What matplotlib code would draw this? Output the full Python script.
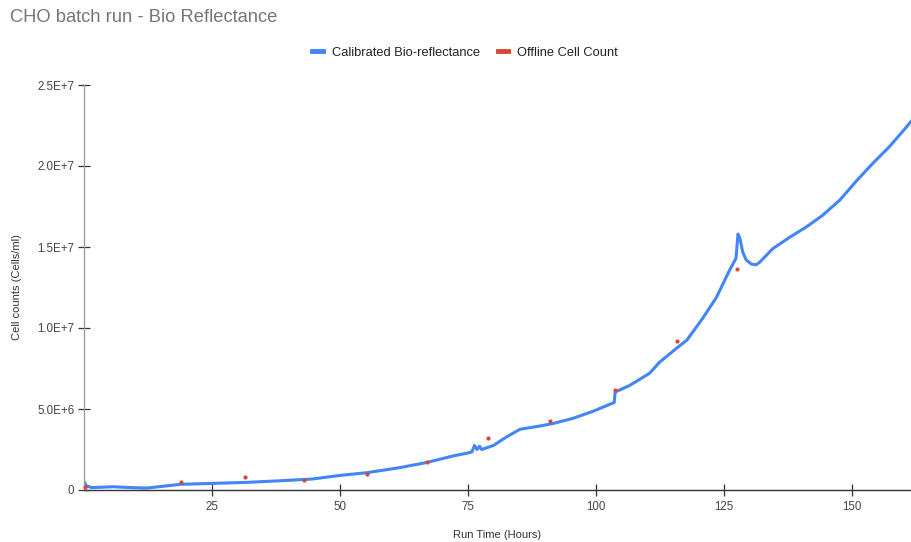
import matplotlib
matplotlib.use('Agg')
import matplotlib.pyplot as plt
from matplotlib.lines import Line2D
from matplotlib.ticker import FixedLocator, FixedFormatter

plt.rcParams['font.family'] = ['Liberation Sans', 'DejaVu Sans']

# calibrated bio-reflectance trace (hours, cells/ml)
run_hours = [0.1, 0.5, 1.5, 5.7, 9.0, 12.3, 18.8, 25.2, 31.8, 38.3, 44.7, 50, 55.3,
             61.7, 67, 72.1, 74.8, 75.8, 76.3, 76.8, 77.3, 77.7, 80, 82.6, 85.2,
             89.1, 91.6, 95.5, 99.4, 103.6, 103.8, 106.6, 110.5, 112.5, 115.8,
             117.8, 120.9, 123.6, 126.2, 127.4, 127.8, 128.2, 128.7, 129.4,
             130.4, 131.3, 132.0, 134.6, 137.9, 141.2, 144.3, 147.7, 151, 154.1,
             157.4, 160.7, 161.6]
bio_reflectance = [0.45e6, 0.25e6, 0.15e6, 0.2e6, 0.15e6, 0.12e6, 0.35e6, 0.41e6,
                   0.47e6, 0.57e6, 0.68e6, 0.9e6, 1.07e6, 1.38e6, 1.7e6, 2.1e6,
                   2.27e6, 2.35e6, 2.75e6, 2.5e6, 2.7e6, 2.5e6, 2.75e6, 3.28e6,
                   3.75e6, 3.95e6, 4.1e6, 4.42e6, 4.85e6, 5.4e6, 6.05e6, 6.45e6,
                   7.2e6, 7.9e6, 8.75e6, 9.25e6, 10.6e6, 11.9e6, 13.6e6, 14.3e6,
                   15.8e6, 15.5e6, 14.7e6, 14.2e6, 13.95e6, 13.9e6, 14.05e6,
                   14.9e6, 15.6e6, 16.25e6, 16.95e6, 17.9e6, 19.1e6, 20.15e6,
                   21.2e6, 22.4e6, 22.75e6]

# offline cell counts
count_hours = [0.2, 18.9, 31.4, 43.0, 55.3, 67.1, 79.0, 91.1, 103.7, 115.8, 127.6]
cell_counts = [0.2e6, 0.5e6, 0.78e6, 0.62e6, 1.0e6, 1.71e6, 3.19e6, 4.24e6,
               6.17e6, 9.2e6, 13.64e6]

x_ticks = [25, 50, 75, 100, 125, 150]
y_ticks = [0, 5e6, 1e7, 1.5e7, 2e7, 2.5e7]
y_labels = ['0', '5.0E+6', '1.0E+7', '1.5E+7', '2.0E+7', '2.5E+7']

blue = '#4285F4'
red = '#DB4437'

fig = plt.figure(figsize=(9.11, 5.42), dpi=100)
ax = fig.add_axes([84 / 911, 52 / 542, 827 / 911, 405 / 542])

ax.plot(run_hours, bio_reflectance, color=blue, lw=2.2, solid_joinstyle='round',
        zorder=2)
ax.plot(count_hours, cell_counts, 'o', color=red, ms=3, mec='none', zorder=3,
        clip_on=False)

ax.set_xlim(0, 161.6)
ax.set_ylim(0, 2.5e7)
ax.xaxis.set_major_locator(FixedLocator(x_ticks))
ax.yaxis.set_major_locator(FixedLocator(y_ticks))
ax.yaxis.set_major_formatter(FixedFormatter(y_labels))

for s in ['top', 'right']:
    ax.spines[s].set_visible(False)
ax.spines['left'].set_color('#9e9e9e')
ax.spines['left'].set_linewidth(1.0)
ax.spines['bottom'].set_color('#333333')
ax.spines['bottom'].set_linewidth(1.0)
ax.tick_params(axis='both', direction='inout', length=8, width=0.9,
               color='#333333', labelsize=8.3, labelcolor='#444444')
ax.tick_params(axis='x', pad=4)
ax.tick_params(axis='y', pad=3)

ax.set_xlabel('Run Time (Hours)', fontsize=8, color='#333333', labelpad=12)
ax.set_ylabel('Cell counts (Cells/ml)', fontsize=8, color='#333333', labelpad=11)

fig.text(10 / 911, 1 - 18 / 542, 'CHO batch run - Bio Reflectance', fontsize=13.2,
         color='#757575', va='center', ha='left')

handles = [Line2D([], [], color=blue, lw=3.5),
           Line2D([], [], color=red, lw=3.5)]
fig.legend(handles, ['Calibrated Bio-reflectance', 'Offline Cell Count'],
           loc='center', bbox_to_anchor=(465 / 911, 1 - 53 / 542), ncol=2,
           frameon=False, fontsize=9.3, handlelength=0.8, handletextpad=0.7,
           columnspacing=1.4, labelcolor='#222222')

plt.savefig('out.png', dpi=100)
